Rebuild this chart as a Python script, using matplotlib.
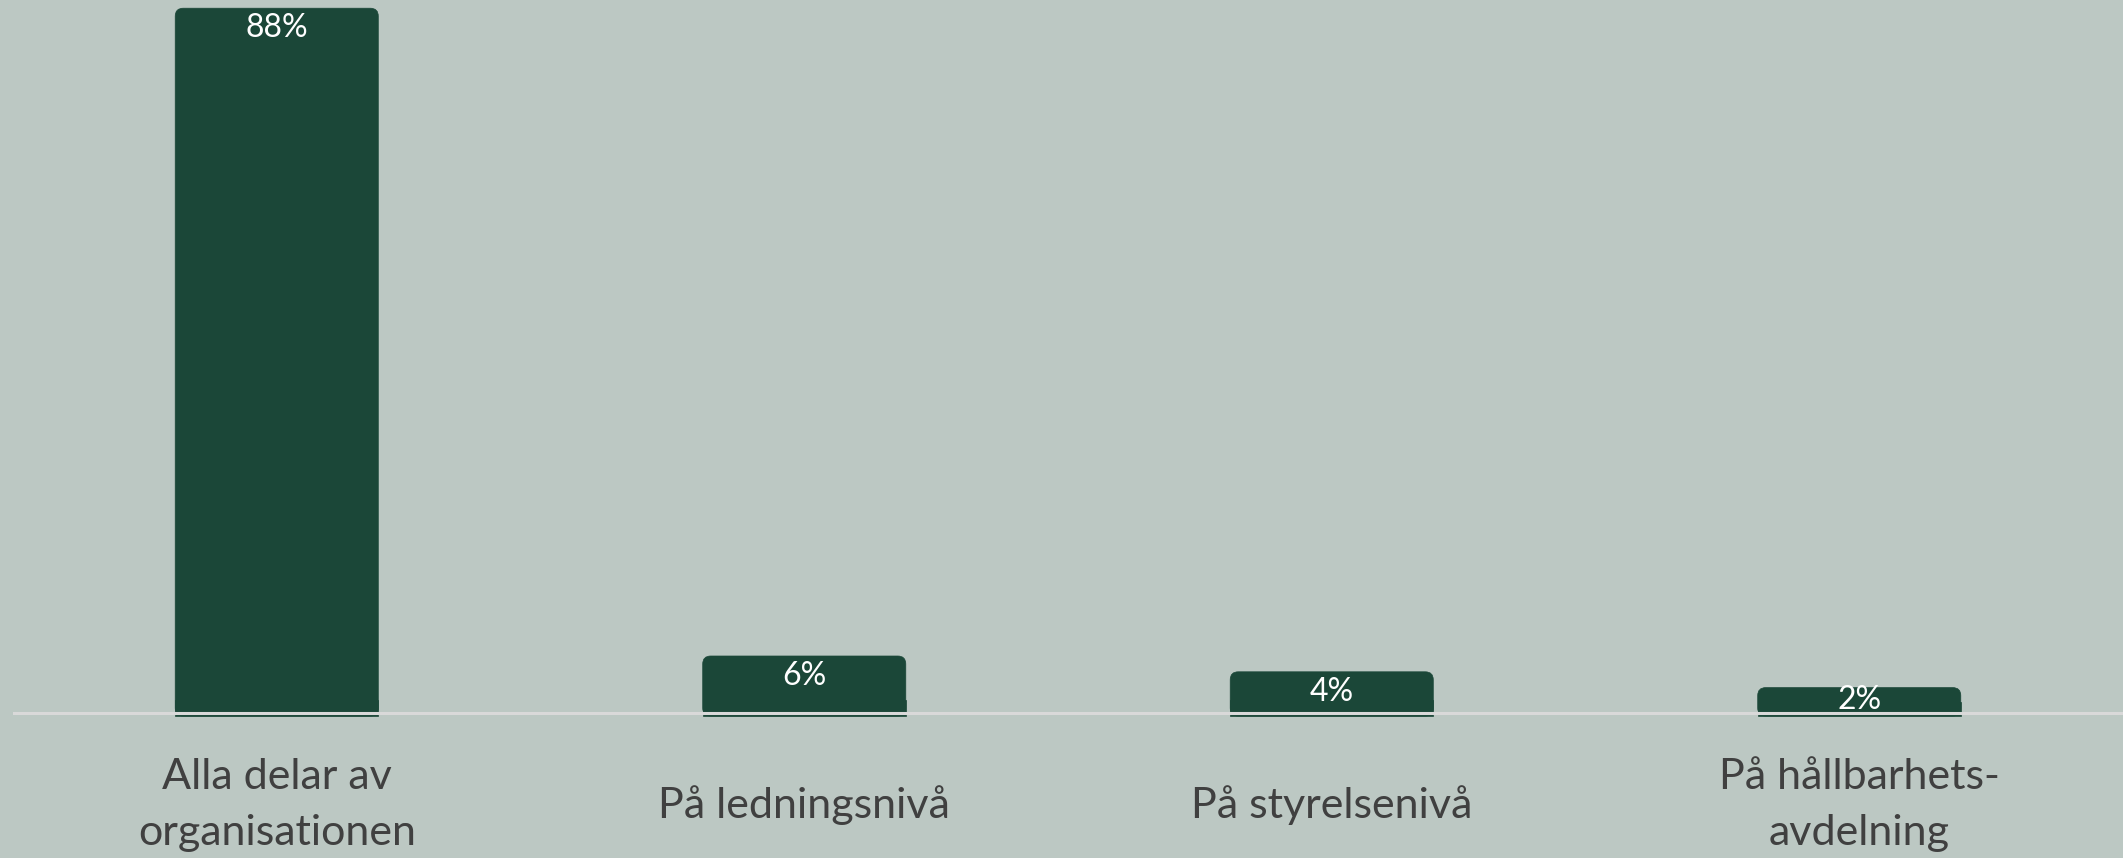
import matplotlib
matplotlib.use("Agg")
import matplotlib.pyplot as plt
from matplotlib.patches import FancyBboxPatch, Rectangle

categories = ["Alla delar av\norganisationen", "På ledningsnivå", "På styrelsenivå", "På hållbarhets-\navdelning"]
values = [88, 6, 4, 2]
value_labels = ["88%", "6%", "4%", "2%"]

W, H, DPI = 2123, 858, 100
BG = "#bcc8c3"
BAR = "#1b4738"
TXT = "#404040"
LINE = "#d9d9d9"

fig = plt.figure(figsize=(W / DPI, H / DPI), dpi=DPI, facecolor=BG)
left_px = 13
ax = fig.add_axes([left_px / W, 0, 1 - left_px / W, 1])
ax.set_facecolor(BG)

px_per_unit = 7.9          # vertical pixels per percent
base_px = 145              # baseline distance from bottom
ax.set_xlim(-0.5, len(values) - 0.5)
ax.set_ylim(-base_px / px_per_unit, (H - base_px) / px_per_unit)
for s in ax.spines.values():
    s.set_visible(False)
ax.set_xticks([]); ax.set_yticks([])

x_px_per_unit = (W - left_px) / len(values)
bar_w = 0.385
top_extra = 9.6 / px_per_unit
bottom_extra = 3.0 / px_per_unit
r = 8.0 / x_px_per_unit
aspect = x_px_per_unit / px_per_unit

for i, v in enumerate(values):
    y0 = -bottom_extra
    h = v + top_extra + bottom_extra
    box = FancyBboxPatch((i - bar_w / 2, y0), bar_w, h,
                         boxstyle=f"round,pad=0,rounding_size={r}",
                         mutation_aspect=aspect, fc=BAR, ec=BAR, lw=0.5, zorder=2)
    ax.add_patch(box)
    ax.add_patch(Rectangle((i - bar_w / 2, y0), bar_w, min(h / 2, 2.0), fc=BAR, ec=BAR, lw=0.5, zorder=2))
    top = v + top_extra
    ly = max(top - 20 / px_per_unit, top / 2)
    ax.text(i, ly, value_labels[i], ha="center", va="center", color="white",
            fontsize=23, family="Lato", zorder=4)
    ax.text(i, -92 / px_per_unit, categories[i], ha="center", va="center", color=TXT,
            fontsize=31, family="Lato", linespacing=1.55, zorder=4)

ax.axhline(0, color=LINE, lw=2.2, zorder=3)

fig.savefig("out.png", dpi=DPI, facecolor=BG)
